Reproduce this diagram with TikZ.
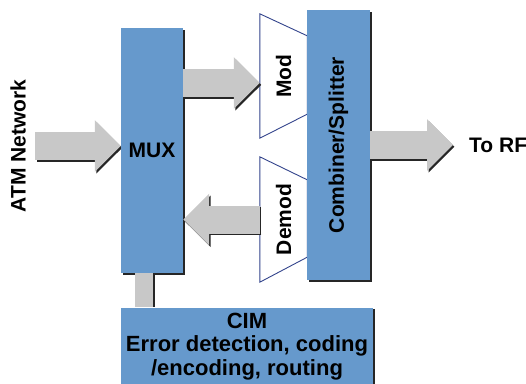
\documentclass[tikz,border=0pt]{standalone}
\usepackage{fontspec}
\setmainfont{Liberation Sans}
\usepackage{xcolor}
\usepackage{tikz}
\usetikzlibrary{arrows.meta,positioning,calc}
\pgfdeclarelayer{bg}
\pgfsetlayers{bg,main}
\definecolor{boxblue}{RGB}{102,153,204}
\definecolor{arrowgray}{RGB}{200,200,200}
\definecolor{trapline}{RGB}{51,68,140}
\newcommand{\fatarrowpath}[2]{%
	\draw[fatshade] ([shift={(1.5pt,-1.8pt)}]#1) -- ([shift={(1.5pt,-1.8pt)}]#2);
	\draw[fatarrow] (#1) -- (#2);}
\newcommand{\boxshade}[1]{%
	\fill[black!85] ([shift={(2pt,-2pt)}]#1.north west) rectangle ([shift={(2pt,-2pt)}]#1.south east);}

\begin{document}
\begin{tikzpicture}[
			x=1pt,y=-1pt,
			every node/.style={font=\fontsize{21}{24}\selectfont\bfseries,inner sep=0pt},
			blockbox/.style={fill=boxblue},
			trapbox/.style={draw=trapline,line width=0.9pt,fill=white},
			fatarrow/.style={draw=arrowgray,line width=28pt,-{Triangle[length=26pt,width=50pt]}},
			fatshade/.style={draw=black!85,line width=28pt,-{Triangle[length=26pt,width=50pt]}},
			linkbar/.style={draw=arrowgray,line width=18pt}
			]

			\useasboundingbox (0,0) rectangle (526,383);

			\node[blockbox,minimum width=62,minimum height=245] (mux) at (152,150.5) {MUX};
			\node[blockbox,minimum width=63,minimum height=270] (comb) at (338.5,145) {\rotatebox{90}{Combiner/Splitter}};
			\node[blockbox,minimum width=252,minimum height=78,align=center,font=\fontsize{22}{23.5}\selectfont\bfseries] (cim) at (247,346.5) {CIM\\Error detection, coding\\/encoding, routing};

			\node[minimum width=47,minimum height=124] (mod) at (283.5,76) {\rotatebox{90}{Mod}};
			\node[minimum width=47,minimum height=125] (demod) at (283.5,219.5) {\rotatebox{90}{Demod}};

			\node[rotate=90] (atm) at (18,146) {ATM Network};
			\node[anchor=west] (rf) at (469,145) {To RF};

			\coordinate (atmtail) at (35,146);
			\coordinate (atmtip) at (atmtail -| mux.west);
			\coordinate (modin) at ($(mod.west)+(0,7)$);
			\coordinate (modout) at (mux.east |- modin);
			\coordinate (demodout) at (demod.west);
			\coordinate (demodtip) at (demod.west -| mux.east);
			\coordinate (rftip) at ($(rf.west)+(-16,0)$);
			\coordinate (rfout) at (comb.east |- rftip);
			\coordinate (linktop) at ($(mux.south west)+(23,0)$);
			\coordinate (linkbot) at ($(cim.north west)+(23,0)$);

			\begin{pgfonlayer}{bg}
				\boxshade{mux}
				\boxshade{comb}
				\boxshade{cim}
				\draw[trapbox] (mod.north west) -- ($(mod.north east)+(0,22)$) -- ($(mod.south east)+(0,-24)$) -- (mod.south west) -- cycle;
				\draw[trapbox] (demod.north west) -- ($(demod.north east)+(0,23)$) -- ($(demod.south east)+(0,-25)$) -- (demod.south west) -- cycle;

				\draw[linkbar,draw=black!85] ([xshift=2pt]linktop) -- ([xshift=2pt]linkbot);
				\draw[linkbar] (linktop) -- (linkbot);
				\fatarrowpath{atmtail}{atmtip}
				\fatarrowpath{modout}{modin}
				\fatarrowpath{demodout}{demodtip}
				\fatarrowpath{rfout}{rftip}
			\end{pgfonlayer}

		\end{tikzpicture}
\end{document}
